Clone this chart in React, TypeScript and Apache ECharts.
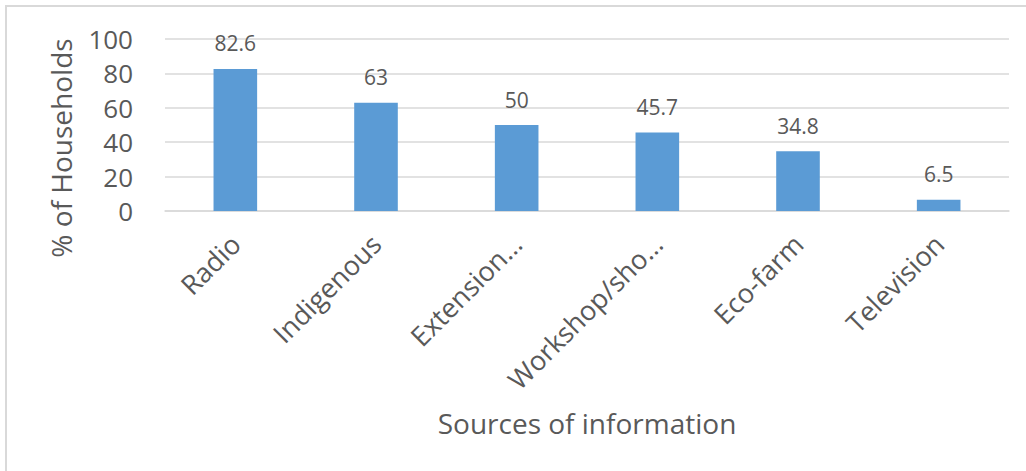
import React, { useEffect, useRef } from "react";
import * as echarts from "echarts";

// Share of households using each source of information (%)
const categories: string[] = [
  "Radio",
  "Indigenous",
  "Extension…",
  "Workshop/sho…",
  "Eco-farm",
  "Television",
];
const householdShare: number[] = [82.6, 63, 50, 45.7, 34.8, 6.5];
const yTicks = { min: 0, max: 100, interval: 20 };

const FONT = "'Open Sans', 'Noto Sans', sans-serif";
const TEXT = "#595959";
const GRID = "#D9D9D9";
const BAR = "#5B9BD5";

export default function App() {
  const ref = useRef<HTMLDivElement>(null);

  useEffect(() => {
    if (!ref.current) return;
    const chart = echarts.init(ref.current, undefined, { renderer: "svg" });
    chart.setOption({
      animation: false,
      backgroundColor: "#ffffff",
      textStyle: { fontFamily: FONT },
      grid: { left: 165, right: 17, top: 39, bottom: 260, containLabel: false },
      xAxis: {
        type: "category",
        data: categories,
        axisLine: { show: true, lineStyle: { color: GRID, width: 1.5 } },
        axisTick: { show: false },
        axisLabel: {
          rotate: 45,
          interval: 0,
          margin: 28,
          color: TEXT,
          fontSize: 27,
          fontFamily: FONT,
        },
        name: "Sources of information",
        nameLocation: "middle",
        nameGap: 198,
        nameTextStyle: { color: TEXT, fontSize: 28, fontFamily: FONT },
      },
      yAxis: {
        type: "value",
        min: yTicks.min,
        max: yTicks.max,
        interval: yTicks.interval,
        axisLine: { show: false },
        axisTick: { show: false },
        axisLabel: { color: TEXT, fontSize: 26, fontFamily: FONT, margin: 32 },
        splitLine: { lineStyle: { color: GRID, width: 1.5 } },
      },
      graphic: [
        {
          type: "rect",
          silent: true,
          shape: { x: 6, y: 6, width: 1060, height: 500 },
          style: { fill: "none", stroke: GRID, lineWidth: 2 },
        },
        {
          type: "text",
          silent: true,
          x: 61,
          y: 148,
          rotation: Math.PI / 2,
          style: {
            text: "% of Households",
            fill: TEXT,
            fontSize: 28,
            fontFamily: FONT,
            align: "center",
            verticalAlign: "middle",
          },
        },
      ],
      series: [
        {
          type: "bar",
          data: householdShare,
          barWidth: "31%",
          itemStyle: { color: BAR },
          label: {
            show: true,
            position: "top",
            distance: 15,
            color: TEXT,
            fontSize: 21,
            fontFamily: FONT,
          },
        },
      ],
    });
    return () => chart.dispose();
  }, []);

  return (
    <div
      ref={ref}
      style={{ position: "absolute", left: 0, top: 0, width: 1026, height: 471 }}
    />
  );
}
